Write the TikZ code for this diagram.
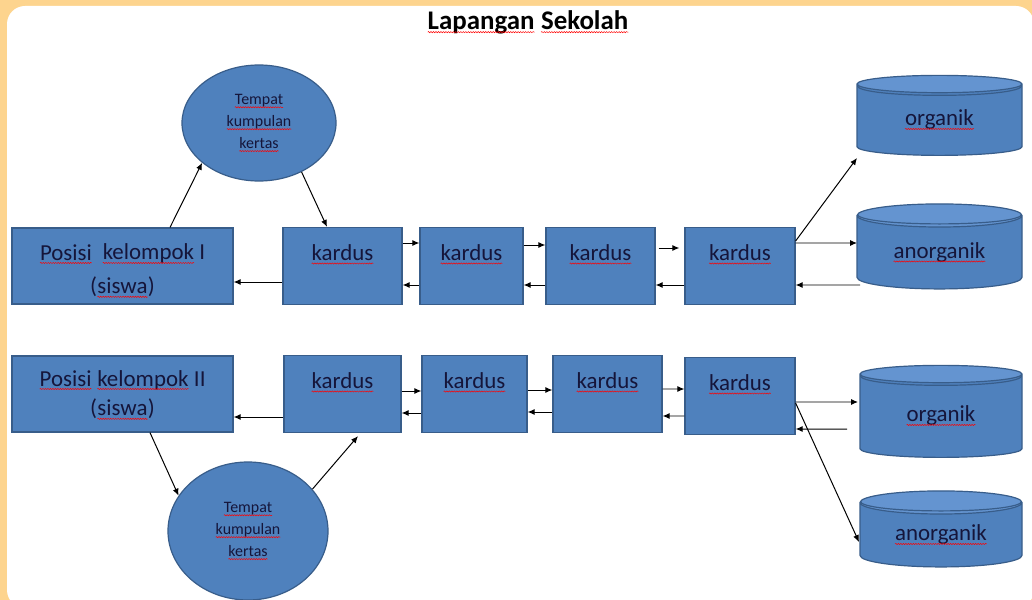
\documentclass[tikz,border=0pt]{standalone}
\usepackage{fontspec}
\setmainfont{Carlito}
\usetikzlibrary{arrows.meta,positioning,shapes.geometric,decorations.pathmorphing}
\definecolor{bgorange}{HTML}{FDD48E}
\definecolor{boxblue}{HTML}{4F81BD}
\definecolor{boxedge}{HTML}{385D8A}
\definecolor{capblue}{HTML}{6494D0}
\definecolor{txtnavy}{HTML}{15153A}
% red wavy line under words, as in the original
\newcommand\squig[1]{\tikz[baseline=(w.base)]{\node[shape=rectangle, draw=none, fill=none, align=none, inner sep=0pt, outer sep=0pt,
        minimum width=0pt, minimum height=0pt, text height=, text depth=] (w) {#1};
    \draw[red, line width=0.5pt, decorate, decoration={snake, amplitude=0.6pt, segment length=2.5pt}]
        ([yshift=-3pt]w.base west) -- ([yshift=-3pt]w.base east);}}

\begin{document}
\begin{tikzpicture}[
    x=1bp, y=-1bp,
    posbox/.style={fill=boxblue, draw=boxedge, line width=1.2pt, text=txtnavy, inner sep=0pt, minimum width=221bp, text height=32bp, text depth=44bp},
    kardusbox/.style={fill=boxblue, draw=boxedge, line width=1.2pt, text=txtnavy, inner sep=0pt, text height=33bp, text depth=44bp, font=\fontsize{23}{27}\selectfont},
    pool/.style={ellipse, fill=boxblue, draw=boxedge, line width=1.2pt, align=center, text=txtnavy, inner sep=0pt, font=\fontsize{16}{22}\selectfont},
    bin/.style={cylinder, shape border rotate=90, aspect=0.25, cylinder uses custom fill, cylinder body fill=boxblue, cylinder end fill=capblue, draw=boxedge, line width=1.2pt, text=txtnavy, inner sep=0pt, font=\fontsize{23}{27}\selectfont,
        path picture={\draw[boxedge, line width=1.2pt] ([yshift=-10bp]path picture bounding box.north west)
            .. controls ([yshift=-23.3bp]path picture bounding box.north west) and ([yshift=-23.3bp]path picture bounding box.north east)
            .. ([yshift=-10bp]path picture bounding box.north east);}},
    conn/.style={-{Latex[length=7bp,width=6bp]}, line width=1pt, black}
]

% background and white sheet
\useasboundingbox (0,0) rectangle (1032,600);
\fill[bgorange] (0,0) rectangle (1032,600);
\fill[white, rounded corners=18bp] (7,6) rectangle (1034,608);

\node[font=\fontsize{27}{32}\selectfont\bfseries] (title) at (528,22) {\squig{Lapangan} \squig{Sekolah}};

% Row 1: kelompok I
\node[posbox, font=\fontsize{23}{34}\selectfont] (P1) at (122.5,266)
    {\parbox[t]{215bp}{\centering\squig{Posisi}\ \ \squig{kelompok} I\\(\squig{siswa})}};
\node[kardusbox, minimum width=119bp] (K1) at (342.5,266) {\squig{kardus}};
\node[kardusbox, minimum width=103bp] (K2) at (471.5,266) {\squig{kardus}};
\node[kardusbox, minimum width=109bp] (K3) at (600.5,266) {\squig{kardus}};
\node[kardusbox, minimum width=110bp] (K4) at (740,266) {\squig{kardus}};
\node[pool, minimum width=154bp, minimum height=116bp] (E1) at (259,123) {\squig{Tempat}\\\squig{kumpulan}\\\squig{kertas}};
\node[bin, minimum width=165bp, minimum height=80bp] (O1) at (939.5,120) {\squig{organik}};
\node[bin, minimum width=165bp, minimum height=85bp] (A1) at (939.5,252.5) {\squig{anorganik}};

% Row 2: kelompok II
\node[posbox, font=\fontsize{23}{30}\selectfont, text height=30bp, text depth=46bp] (P2) at (122.5,394)
    {\parbox[t]{215bp}{\centering\squig{Posisi} \squig{kelompok} II\\(\squig{siswa})}};
\node[kardusbox, minimum width=117bp] (K1b) at (342.5,394) {\squig{kardus}};
\node[kardusbox, minimum width=105bp] (K2b) at (474.5,394) {\squig{kardus}};
\node[kardusbox, minimum width=109bp] (K3b) at (607.5,394) {\squig{kardus}};
\node[kardusbox, minimum width=110bp] (K4b) at (740,396) {\squig{kardus}};
\node[pool, minimum width=160bp, minimum height=138bp] (E2) at (248,531) {\squig{Tempat}\\\squig{kumpulan}\\\squig{kertas}};
\node[bin, minimum width=162bp, minimum height=92bp] (O2) at (941,416) {\squig{organik}};
\node[bin, minimum width=162bp, minimum height=76bp] (A2) at (941,535) {\squig{anorganik}};

% connectors row 1
\draw[conn] ([xshift=47.5bp]P1.north) -- (E1.215);
\draw[conn] (E1.-49) -- ([xshift=-15.5bp]K1.north);
\draw[conn] ([yshift=-16bp]K1.west) -- ([yshift=-16bp]P1.east);
\draw[conn] ([yshift=23bp]K1.east) -- ([yshift=23bp]K2.west);
\draw[conn] ([yshift=-19bp]K2.west) -- ([yshift=-19bp]K1.east);
\draw[conn] ([yshift=21bp]K2.east) -- ([yshift=21bp]K3.west);
\draw[conn] ([yshift=-19bp]K3.west) -- ([yshift=-19bp]K2.east);
\draw[conn] ([xshift=3bp,yshift=18bp]K3.east) -- ([xshift=-5bp,yshift=18bp]K4.west);
\draw[conn] ([yshift=-19bp]K4.west) -- ([yshift=-19bp]K3.east);
\draw[conn] ([yshift=25bp]K4.east) -- ([xshift=-82.5bp,yshift=-38bp]O1.center);
\draw[conn] ([yshift=23bp]K4.east) -- ([xshift=-82.5bp,yshift=9.5bp]A1.center);
\draw[conn] ([xshift=-79.5bp,yshift=-32.5bp]A1.center) -- ([yshift=-19bp]K4.east);

% connectors row 2
\draw[conn] ([xshift=27.5bp]P2.south) -- (E2.153);
\draw[conn] (E2.33) -- ([xshift=15.5bp,yshift=-3bp]K1b.south);
\draw[conn] ([yshift=-23bp]K1b.west) -- ([yshift=-23bp]P2.east);
\draw[conn] ([yshift=3bp]K1b.east) -- ([yshift=3bp]K2b.west);
\draw[conn] ([yshift=-19bp]K2b.west) -- ([yshift=-19bp]K1b.east);
\draw[conn] ([yshift=4bp]K2b.east) -- ([yshift=4bp]K3b.west);
\draw[conn] ([yshift=-18bp]K3b.west) -- ([yshift=-18bp]K2b.east);
\draw[conn] ([yshift=5bp]K3b.east) -- ([yshift=7bp]K4b.west);
\draw[conn] ([yshift=-20bp]K4b.west) -- ([yshift=-22bp]K3b.east);
\draw[conn] ([yshift=-6bp]K4b.east) -- ([xshift=-83bp,yshift=14bp]O2.center);
\draw[conn] ([xshift=-94bp,yshift=-13bp]O2.center) -- ([yshift=-33bp]K4b.east);
\draw[conn] ([yshift=-7bp]K4b.east) -- ([xshift=-82bp,yshift=-7bp]A2.center);

\end{tikzpicture}
\end{document}
